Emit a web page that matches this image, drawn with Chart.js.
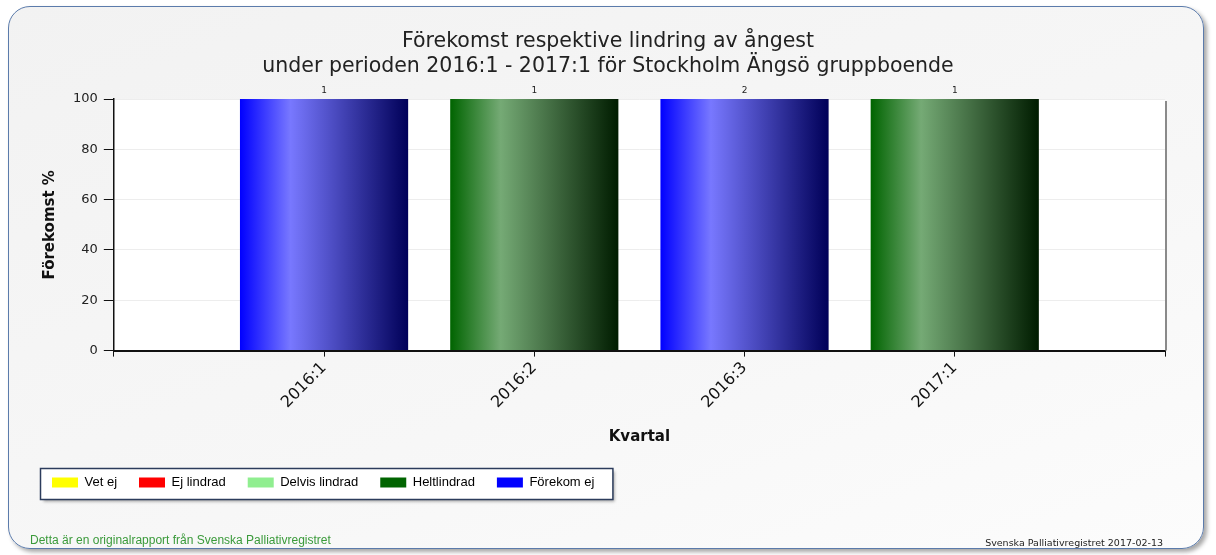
<!DOCTYPE html>
<html>
<head>
<meta charset="utf-8">
<script src="https://cdn.jsdelivr.net/npm/chart.js@4"></script>
<style>
  html, body { margin: 0; padding: 0; background: #fff; }
  #wrap { position: relative; width: 1216px; height: 555px; overflow: hidden; }
  #frame {
    position: absolute; left: 8px; top: 6px; width: 1194px; height: 541px;
    border: 1.5px solid #5b7bab; border-radius: 22px;
    background: linear-gradient(160deg, #f2f2f2 0%, #f7f7f7 60%, #fcfcfc 100%);
    box-shadow: 3px 3px 4px rgba(0,0,0,0.35);
  }
  #chart { position: absolute; left: 0; top: 0; }
  .foot { position: absolute; white-space: nowrap; }
  #footLeft { left: 30px; top: 533px; font: 12px "Liberation Sans", Arial, sans-serif; color: #3a9a3a; }
  #footRight { right: 53px; top: 537px; font: 9.5px "DejaVu Sans", Verdana, sans-serif; color: #222; }
</style>
</head>
<body>
<div id="wrap">
  <div id="frame"></div>
  <canvas id="chart" width="1216" height="555"></canvas>
  <div class="foot" id="footLeft">Detta är en originalrapport från Svenska Palliativregistret</div>
  <div class="foot" id="footRight">Svenska Palliativregistret 2017-02-13</div>
</div>
<script>
(() => {
  'use strict'

  // Data
  const quarters = ['2016:1', '2016:2', '2016:3', '2017:1']
  const vetEj = [0, 0, 0, 0]
  const ejLindrad = [0, 0, 0, 0]
  const delvisLindrad = [0, 0, 0, 0]
  const heltlindrad = [0, 100, 0, 100]
  const forekomEj = [100, 0, 100, 0]
  const antal = [1, 1, 2, 1]

  const seriesNames = ['Vet ej', 'Ej lindrad', 'Delvis lindrad', 'Heltlindrad', 'Förekom ej']
  const legendColors = ['#ffff00', '#ff0000', '#90ee90', '#006400', '#0000ff']

  // empty slot on each side of the quarters
  const labels = ['', ...quarters, '']
  const pad = arr => [null, ...arr.map(v => v || null), null]

  function barGradient(stops, fallback) {
    return (context) => {
      const chart = context.chart
      const xs = chart.scales.x
      if (!xs || context.type !== 'data') return fallback
      const center = xs.getPixelForValue(context.dataIndex)
      const half = (xs.getPixelForValue(1) - xs.getPixelForValue(0)) * 0.8 / 2
      if (!isFinite(center) || !isFinite(half)) return fallback
      const g = chart.ctx.createLinearGradient(center - half, 0, center + half, 0)
      stops.forEach(s => g.addColorStop(s[0], s[1]))
      return g
    }
  }

  const blueGrad = barGradient([[0, '#0000ff'], [0.3, '#7878ff'], [1, '#000058']], '#0000ff')
  const greenGrad = barGradient([[0, '#006400'], [0.3, '#75aa75'], [1, '#001c00']], '#006400')

  const backdrop = {
    id: 'backdrop',
    afterLayout(chart) {
      // center the title on the whole canvas
      const t = chart.titleBlock
      if (t) {
        t.left = 0
        t.right = chart.width
        t.width = chart.width
      }
    },
    beforeDraw(chart) {
      const { ctx, chartArea: a } = chart
      ctx.save()
      ctx.fillStyle = '#ffffff'
      ctx.fillRect(a.left, a.top, a.right - a.left, a.bottom - a.top)
      // legend frame
      const boxes = chart.legend.legendHitBoxes
      if (boxes && boxes.length) {
        const first = boxes[0]
        const last = boxes[boxes.length - 1]
        const l = first.left - 12
        const r = last.left + last.width + 18
        const cy = first.top + first.height / 2
        const t = Math.round(cy - 15) + 0.5
        const h = 31
        ctx.shadowColor = 'rgba(0,0,0,0.35)'
        ctx.shadowOffsetX = 2
        ctx.shadowOffsetY = 2
        ctx.shadowBlur = 3
        ctx.fillStyle = '#ffffff'
        ctx.fillRect(Math.round(l) + 0.5, t, r - l, h)
        ctx.shadowColor = 'transparent'
        ctx.strokeStyle = '#2c3c5c'
        ctx.lineWidth = 1.5
        ctx.strokeRect(Math.round(l) + 0.5, t, r - l, h)
      }
      ctx.restore()
    },
    afterDraw(chart) {
      const { ctx, chartArea: a } = chart
      ctx.save()
      ctx.strokeStyle = '#8a8a8a'
      ctx.lineWidth = 2
      ctx.beginPath()
      ctx.moveTo(a.right + 1, a.top + 2)
      ctx.lineTo(a.right + 1, a.bottom)
      ctx.stroke()
      ctx.restore()
    }
  }

  const countLabels = {
    id: 'countLabels',
    afterDatasetsDraw(chart) {
      const { ctx, scales } = chart
      ctx.save()
      ctx.font = '9px "DejaVu Sans", Verdana, sans-serif'
      ctx.fillStyle = '#222'
      ctx.textAlign = 'center'
      ctx.textBaseline = 'bottom'
      antal.forEach((n, i) => {
        const total = heltlindrad[i] + forekomEj[i] + vetEj[i] + ejLindrad[i] + delvisLindrad[i]
        ctx.fillText(String(n), scales.x.getPixelForValue(i + 1), scales.y.getPixelForValue(total) - 4)
      })
      ctx.restore()
    }
  }

  const ctx = document.getElementById('chart')
  // eslint-disable-next-line no-unused-vars
  const myChart = new Chart(ctx, {
    type: 'bar',
    data: {
      labels: labels,
      datasets: [
        { label: seriesNames[0], data: pad(vetEj), backgroundColor: legendColors[0] },
        { label: seriesNames[1], data: pad(ejLindrad), backgroundColor: legendColors[1] },
        { label: seriesNames[2], data: pad(delvisLindrad), backgroundColor: legendColors[2] },
        { label: seriesNames[3], data: pad(heltlindrad), backgroundColor: greenGrad },
        { label: seriesNames[4], data: pad(forekomEj), backgroundColor: blueGrad }
      ]
    },
    options: {
      responsive: false,
      animation: false,
      categoryPercentage: 0.8,
      barPercentage: 1,
      layout: { padding: { left: 30, right: 51, top: 0, bottom: 56 } },
      scales: {
        x: {
          stacked: true,
          offset: false,
          grid: { offset: false, drawOnChartArea: false, tickLength: 6, tickColor: '#111' },
          border: { color: '#111', width: 2 },
          ticks: {
            autoSkip: false,
            minRotation: 45,
            maxRotation: 45,
            padding: 2,
            color: '#111',
            font: { family: '"DejaVu Sans", Verdana, sans-serif', size: 16 }
          },
          title: {
            display: true,
            text: 'Kvartal',
            color: '#111',
            padding: { top: 14, bottom: 8 },
            font: { family: '"DejaVu Sans", Verdana, sans-serif', size: 15, weight: 'bold' }
          }
        },
        y: {
          stacked: true,
          min: 0,
          max: 100,
          ticks: {
            stepSize: 20,
            padding: 6,
            color: '#222',
            font: { family: '"DejaVu Sans", Verdana, sans-serif', size: 13 }
          },
          grid: { color: '#ededed', tickLength: 10, tickColor: '#111' },
          border: { color: '#111', width: 1.5 },
          title: {
            display: true,
            text: 'Förekomst %',
            color: '#111',
            padding: { top: 11, bottom: 8 },
            font: { family: '"DejaVu Sans", Verdana, sans-serif', size: 15, weight: 'bold' }
          }
        }
      },
      plugins: {
        title: {
          display: true,
          text: ['Förekomst respektive lindring av ångest', 'under perioden 2016:1 - 2017:1 för Stockholm Ängsö gruppboende'],
          color: '#222',
          padding: { top: 29, bottom: 20 },
          font: { family: '"DejaVu Sans", Verdana, sans-serif', size: 20.5, weight: 'normal', lineHeight: 1.22 }
        },
        legend: {
          position: 'bottom',
          align: 'start',
          labels: {
            boxWidth: 26,
            boxHeight: 10,
            padding: 22,
            color: '#111',
            font: { family: '"Liberation Sans", Arial, sans-serif', size: 13 },
            generateLabels: (chart) => chart.data.datasets.map((ds, i) => ({
              text: ds.label,
              fillStyle: legendColors[i],
              strokeStyle: legendColors[i],
              lineWidth: 0,
              hidden: false,
              datasetIndex: i
            }))
          }
        },
        tooltip: { enabled: false }
      }
    },
    plugins: [backdrop, countLabels]
  })
})()
</script>
</body>
</html>
